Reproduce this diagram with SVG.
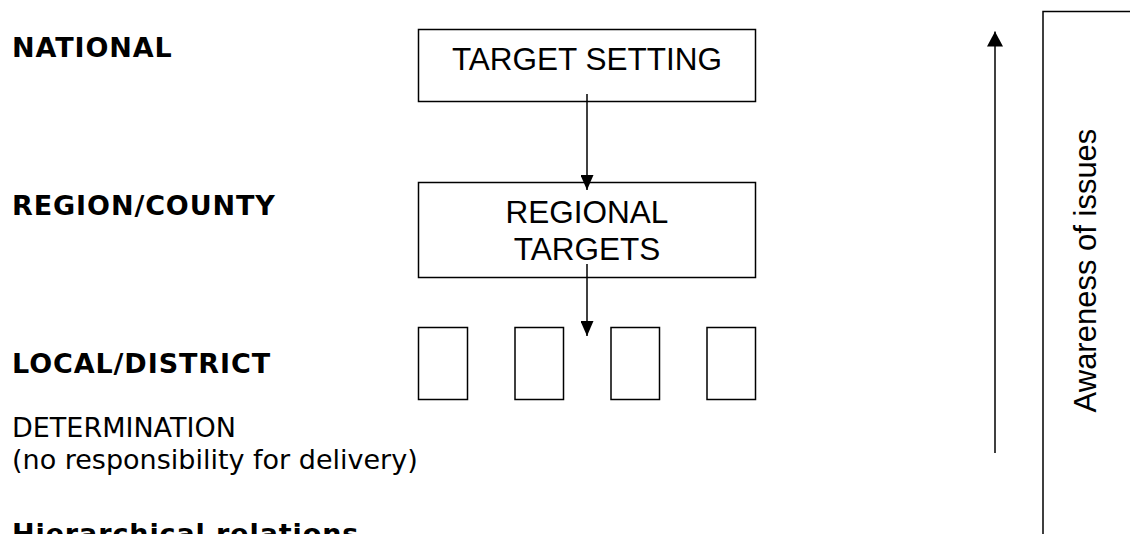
<svg xmlns="http://www.w3.org/2000/svg" width="1130" height="534" viewBox="0 0 1130 534">
<style>
.lbl{font-family:"DejaVu Sans",Verdana,sans-serif;font-size:27px;fill:#000}
.b{font-weight:bold;letter-spacing:0.9px}
.box{fill:#fff;stroke:#000;stroke-width:1.5}
.bt{font-family:"Liberation Sans",Arial,sans-serif;font-size:31.5px;fill:#000;text-anchor:middle}
.ln{stroke:#000;stroke-width:1.5;fill:none}
</style>
<defs>
<marker id="ah" markerUnits="userSpaceOnUse" markerWidth="15" markerHeight="13" refX="15" refY="6.5" orient="auto" viewBox="0 0 15 13">
<path d="M0,0 L15,6.5 L0,13 Z" fill="#000"/>
</marker>
<marker id="ahw" markerUnits="userSpaceOnUse" markerWidth="15" markerHeight="16" refX="15" refY="8" orient="auto" viewBox="0 0 15 16">
<path d="M0,0 L15,8 L0,16 Z" fill="#000"/>
</marker>
</defs>
<rect width="1130" height="534" fill="#fff"/>
<g id="levels">
<text class="lbl b" x="12" y="57">NATIONAL</text>
<text class="lbl b" x="12" y="215">REGION/COUNTY</text>
<text class="lbl b" x="12" y="373">LOCAL/DISTRICT</text>
<text class="lbl" x="12" y="437">DETERMINATION</text>
<text class="lbl" x="12" y="469">(no responsibility for delivery)</text>
<text class="lbl b" x="12" y="543">Hierarchical relations</text>
</g>
<g id="target-setting">
<rect class="box" x="418.5" y="29.5" width="337" height="72"/>
<text class="bt" x="587" y="70">TARGET SETTING</text>
</g>
<g id="regional-targets">
<rect class="box" x="418.5" y="182.5" width="337" height="95"/>
<text class="bt" x="587" y="223">REGIONAL</text>
<text class="bt" x="587" y="260">TARGETS</text>
</g>
<g id="local-1"><rect class="box" x="418.5" y="327.5" width="49" height="72"/></g>
<g id="local-2"><rect class="box" x="515" y="327.5" width="48.5" height="72"/></g>
<g id="local-3"><rect class="box" x="611" y="327.5" width="48.5" height="72"/></g>
<g id="local-4"><rect class="box" x="707" y="327.5" width="48.5" height="72"/></g>
<g id="awareness">
<rect class="box" x="1043" y="11.5" width="100" height="540"/>
<text class="bt" transform="translate(1096,270.5) rotate(-90)" x="0" y="0" style="font-size:31px">Awareness of issues</text>
</g>
<g id="connectors">
<line class="ln" x1="587" y1="94" x2="587" y2="190" marker-end="url(#ah)"/>
<line class="ln" x1="587" y1="264" x2="587" y2="336" marker-end="url(#ah)"/>
<line class="ln" x1="995" y1="453" x2="995" y2="31.5" marker-end="url(#ahw)"/>
</g>
</svg>
